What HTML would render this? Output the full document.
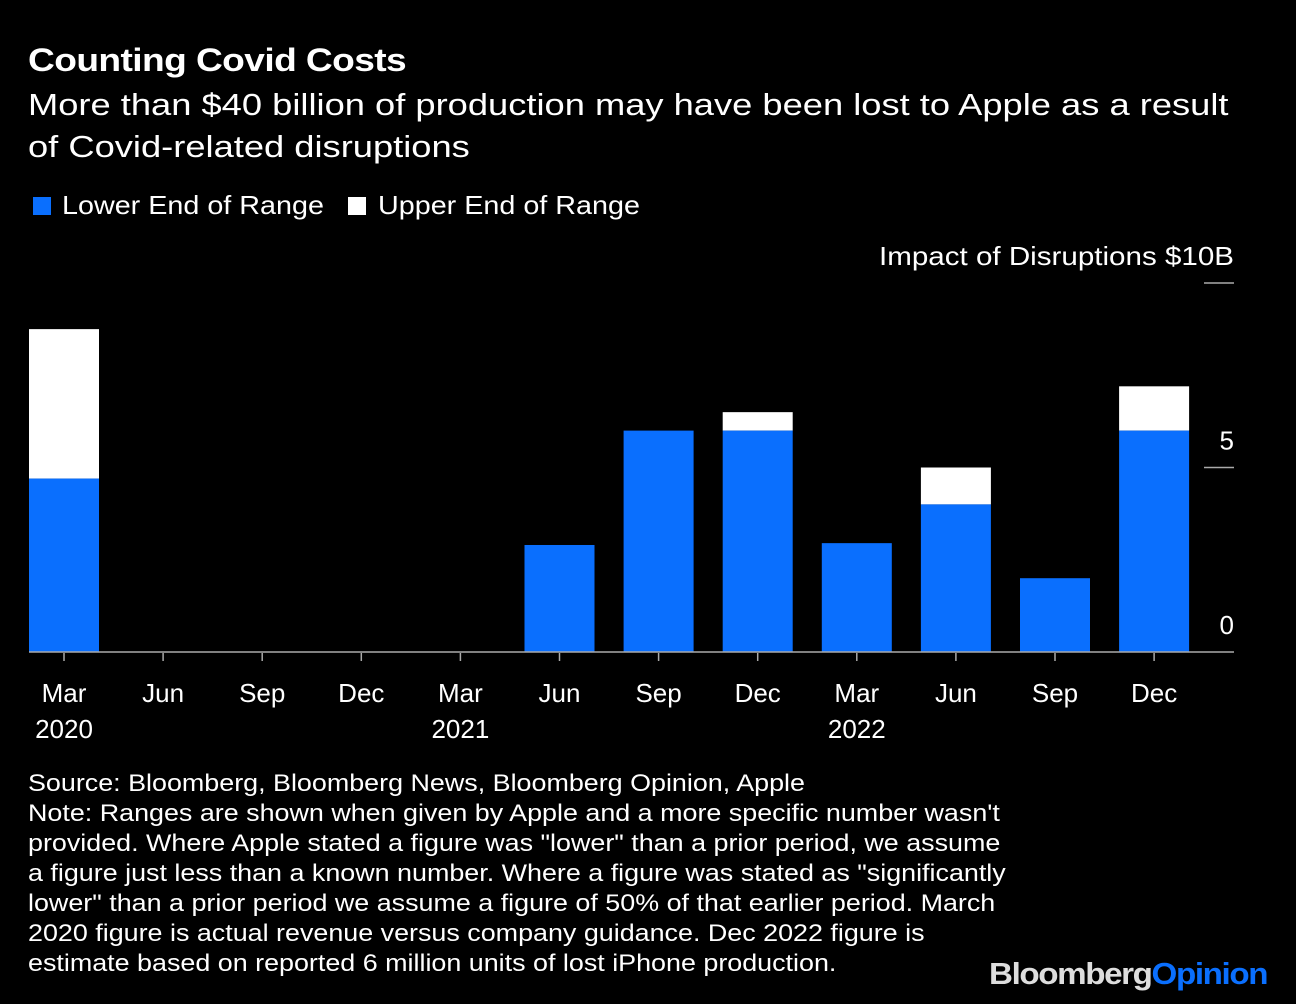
<!DOCTYPE html>
<html><head><meta charset="utf-8"><style>
body{margin:0;background:#000;width:1296px;height:1004px;overflow:hidden;font-family:"Liberation Sans",sans-serif;color:#fff}
.t{position:absolute;white-space:nowrap;transform-origin:0 0}
</style></head><body>
<div class="t" style="left:28px;top:42px;font-size:32px;font-weight:bold;letter-spacing:-0.5px;transform:scaleX(1.16)">Counting Covid Costs</div>
<div class="t" style="left:28px;top:84px;font-size:30.5px;line-height:42px;transform:scaleX(1.19)">More than $40 billion of production may have been lost to Apple as a result<br>of Covid-related disruptions</div>
<div class="t" style="left:33px;top:190px;font-size:26px"><span style="display:inline-block;width:18px;height:18px;background:#0a6ffe;vertical-align:-1px;margin-right:11px"></span><span style="display:inline-block;transform:scaleX(1.105);transform-origin:0 0">Lower End of Range</span></div>
<div class="t" style="left:348px;top:190px;font-size:26px"><span style="display:inline-block;width:18px;height:18px;background:#fff;vertical-align:-1px;margin-right:12px"></span><span style="display:inline-block;transform:scaleX(1.105);transform-origin:0 0">Upper End of Range</span></div>
<svg id="c" width="1296" height="760" style="position:absolute;left:0;top:0"></svg>
<div class="t" style="left:28px;top:769px;font-size:24px;line-height:30px;transform:scaleX(1.12)">Source: Bloomberg, Bloomberg News, Bloomberg Opinion, Apple<br>Note: Ranges are shown when given by Apple and a more specific number wasn't<br>provided. Where Apple stated a figure was "lower" than a prior period, we assume<br>a figure just less than a known number. Where a figure was stated as "significantly<br>lower" than a prior period we assume a figure of 50% of that earlier period. March<br>2020 figure is actual revenue versus company guidance. Dec 2022 figure is<br>estimate based on reported 6 million units of lost iPhone production.</div>
<div class="t" style="left:989px;top:956px;font-size:31px;font-weight:bold;letter-spacing:-1.3px;transform:scaleX(1.07)"><span style="color:#ddd">Bloomberg</span><span style="color:#0a6ffe">Opinion</span></div>
<script>
const months=["Mar","Jun","Sep","Dec","Mar","Jun","Sep","Dec","Mar","Jun","Sep","Dec"];
const years=["2020","","","","2021","","","","2022","","",""];
const lower=[4.7,0,0,0,0,2.9,6.0,6.0,2.95,4.0,2.0,6.0];
const upper=[8.75,0,0,0,0,2.9,6.0,6.5,2.95,5.0,2.0,7.2];
const yTicks=[0,5,10];
const svg=document.getElementById('c');const NS='http://www.w3.org/2000/svg';
const x=i=>64+i*99.1, y=v=>652-v*36.9;
function mk(t,a,name){const e=document.createElementNS(NS,t);for(const k in a)e.setAttribute(k,a[k]);svg.appendChild(e);


return e;}
months.forEach((m,i)=>{
 if(upper[i]>lower[i]) mk('rect',{x:x(i)-35,y:y(upper[i]),width:70,height:y(lower[i])-y(upper[i]),fill:'#fff'},'bar-upper-'+i);
 if(lower[i]>0) mk('rect',{x:x(i)-35,y:y(lower[i]),width:70,height:y(0)-y(lower[i]),fill:'#0a6ffe'},'bar-lower-'+i);
 mk('line',{x1:x(i),x2:x(i),y1:653,y2:661,stroke:'#aaa','stroke-width':1.5},'x-tick');
 const t=mk('text',{x:x(i),y:702,'text-anchor':'middle',fill:'#fff','font-size':26},'x-tick-label');t.textContent=m;
 if(years[i]){const u=mk('text',{x:x(i),y:738,'text-anchor':'middle',fill:'#fff','font-size':26},'x-year-label');u.textContent=years[i];}
});
mk('line',{x1:29,x2:1234,y1:652,y2:652,stroke:'#aaa','stroke-width':1.5},'x-axis');
yTicks.forEach(v=>{
 if(v>0) mk('line',{x1:1204,x2:1234,y1:y(v),y2:y(v),stroke:'#aaa','stroke-width':1.5},'y-tick');
 const lbl=v==10?'Impact of Disruptions $10B':String(v);
 const a={x:1234,y:y(v)-18,'text-anchor':'end',fill:'#fff','font-size':26};
 if(v==10){a.textLength=355;a.lengthAdjust='spacingAndGlyphs';a.x=879;a['text-anchor']='start';}
 const t=mk('text',a,'y-tick-label');t.textContent=lbl;
});
</script>
</body></html>
